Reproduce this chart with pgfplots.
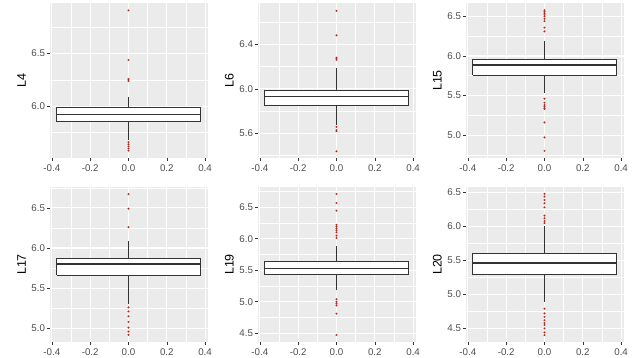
\documentclass[border=0pt]{standalone}
\usepackage{pgfplots}
\pgfplotsset{compat=1.18}
\usepackage{fontspec}
\setmainfont{Liberation Sans}
\definecolor{ggbg}{HTML}{EBEBEB}
\definecolor{ggdark}{HTML}{333333}
\definecolor{gglab}{HTML}{4D4D4D}
\definecolor{ggout}{RGB}{175,40,30}
\pgfplotsset{
  ggpanel/.style={
    scale only axis, width=158bp, height=155bp,
    anchor=south west,
    xmin=-0.4125, xmax=0.4125,
    xtick={-0.4,-0.2,0,0.2,0.4},
    xticklabels={-0.4,-0.2,0.0,0.2,0.4},
    minor xtick={-0.3,-0.1,0.1,0.3},
    axis background/.style={fill=ggbg},
    axis line style={draw=none},
    grid=both,
    major grid style={white, line width=1.1bp},
    minor grid style={white, line width=0.55bp},
    tick align=outside,
    xtick pos=left, ytick pos=left,
    major tick length=2.75bp, minor tick length=0bp,
    major tick style={draw=ggdark, line width=0.5bp},
    tick label style={font=\fontsize{9.8}{11}\selectfont, text=gglab},
    xticklabel style={inner sep=1.5bp, yshift=-2.5bp},
    yticklabel style={inner sep=1.5bp},
    ylabel style={font=\fontsize{12.5}{14}\selectfont, text=black, inner sep=1bp},
    ylabel shift=3bp,
  },
  ggline/.style={draw=ggdark, line width=0.75bp, mark=none},
  ggout/.style={only marks, mark=*, mark size=0.85bp,
    mark options={fill=ggout, draw=ggout, line width=0.2bp}},
}
% lower whisker, Q1, median, Q3, upper whisker
\newcommand{\ggboxplot}[5]{%
  \addplot[ggline] coordinates {(0,#1) (0,#2)};
  \addplot[ggline] coordinates {(0,#4) (0,#5)};
  \addplot[ggline, fill=white] coordinates {(-0.375,#2) (0.375,#2) (0.375,#4) (-0.375,#4) (-0.375,#2)};
  \addplot[ggline, line width=1.4bp] coordinates {(-0.375,#3) (0.375,#3)};
}
\begin{document}
\begin{tikzpicture}

% L4
\begin{axis}[ggpanel, at={(49.5bp,200bp)}, ylabel={L4},
  ymin=5.51, ymax=6.98, ytick={6.0,6.5}, yticklabels={6.0,6.5},
  minor ytick={5.75,6.25,6.75}]
\ggboxplot{5.676}{5.855}{5.92}{5.99}{6.09}
\addplot[ggout] coordinates {(0,6.91) (0,6.44) (0,6.26) (0,6.25) (0,6.24)
               (0,5.66) (0,5.64) (0,5.62) (0,5.60) (0,5.58)};
\end{axis}

% L6
\begin{axis}[ggpanel, at={(257.5bp,200bp)}, ylabel={L6},
  ymin=5.38, ymax=6.77, ytick={5.6,6.0,6.4}, yticklabels={5.6,6.0,6.4},
  minor ytick={5.4,5.8,6.2,6.6}]
\ggboxplot{5.68}{5.85}{5.93}{5.99}{6.19}
\addplot[ggout] coordinates {(0,6.70) (0,6.48) (0,6.28) (0,6.27) (0,6.26)
               (0,5.66) (0,5.63) (0,5.62) (0,5.44)};
\end{axis}

% L15
\begin{axis}[ggpanel, at={(465.5bp,200bp)}, ylabel={L15},
  ymin=4.71, ymax=6.67, ytick={5.0,5.5,6.0,6.5}, yticklabels={5.0,5.5,6.0,6.5},
  minor ytick={4.75,5.25,5.75,6.25}]
\ggboxplot{5.53}{5.76}{5.885}{5.96}{6.19}
\addplot[ggout] coordinates {(0,6.58) (0,6.56) (0,6.54) (0,6.52) (0,6.50) (0,6.47) (0,6.44)
               (0,6.36) (0,6.31)
               (0,5.46) (0,5.41) (0,5.38) (0,5.36) (0,5.34) (0,5.33)
               (0,5.16) (0,4.97) (0,4.80)};
\end{axis}

% L17
\begin{axis}[ggpanel, at={(49.5bp,16bp)}, ylabel={L17},
  ymin=4.83, ymax=6.76, ytick={5.0,5.5,6.0,6.5}, yticklabels={5.0,5.5,6.0,6.5},
  minor ytick={5.25,5.75,6.25,6.75}]
\ggboxplot{5.30}{5.66}{5.80}{5.87}{6.09}
\addplot[ggout] coordinates {(0,6.67) (0,6.49) (0,6.26)
               (0,5.26) (0,5.21) (0,5.15) (0,5.08) (0,5.01) (0,4.96) (0,4.92)};
\end{axis}

% L19
\begin{axis}[ggpanel, at={(257.5bp,16bp)}, ylabel={L19},
  ymin=4.36, ymax=6.82, ytick={4.5,5.0,5.5,6.0,6.5}, yticklabels={4.5,5.0,5.5,6.0,6.5},
  minor ytick={4.75,5.25,5.75,6.25,6.75}]
\ggboxplot{5.18}{5.43}{5.53}{5.64}{5.88}
\addplot[ggout] coordinates {(0,6.71) (0,6.565) (0,6.445)
               (0,6.22) (0,6.19) (0,6.16) (0,6.13) (0,6.10) (0,6.05) (0,6.01)
               (0,5.04) (0,5.00) (0,4.97) (0,4.94) (0,4.81) (0,4.47)};
\end{axis}

% L20
\begin{axis}[ggpanel, at={(465.5bp,16bp)}, ylabel={L20},
  ymin=4.30, ymax=6.58, ytick={4.5,5.0,5.5,6.0,6.5}, yticklabels={4.5,5.0,5.5,6.0,6.5},
  minor ytick={4.75,5.25,5.75,6.25}]
\ggboxplot{4.89}{5.29}{5.46}{5.60}{6.00}
\addplot[ggout] coordinates {(0,6.48) (0,6.44) (0,6.39) (0,6.34) (0,6.28)
               (0,6.16) (0,6.12) (0,6.08) (0,6.05)
               (0,4.79) (0,4.72) (0,4.67) (0,4.62) (0,4.58) (0,4.55) (0,4.50)
               (0,4.44) (0,4.40)};
\end{axis}

\pgfresetboundingbox
\path[use as bounding box] (0,0) rectangle (634bp,358bp);
\end{tikzpicture}
\end{document}
